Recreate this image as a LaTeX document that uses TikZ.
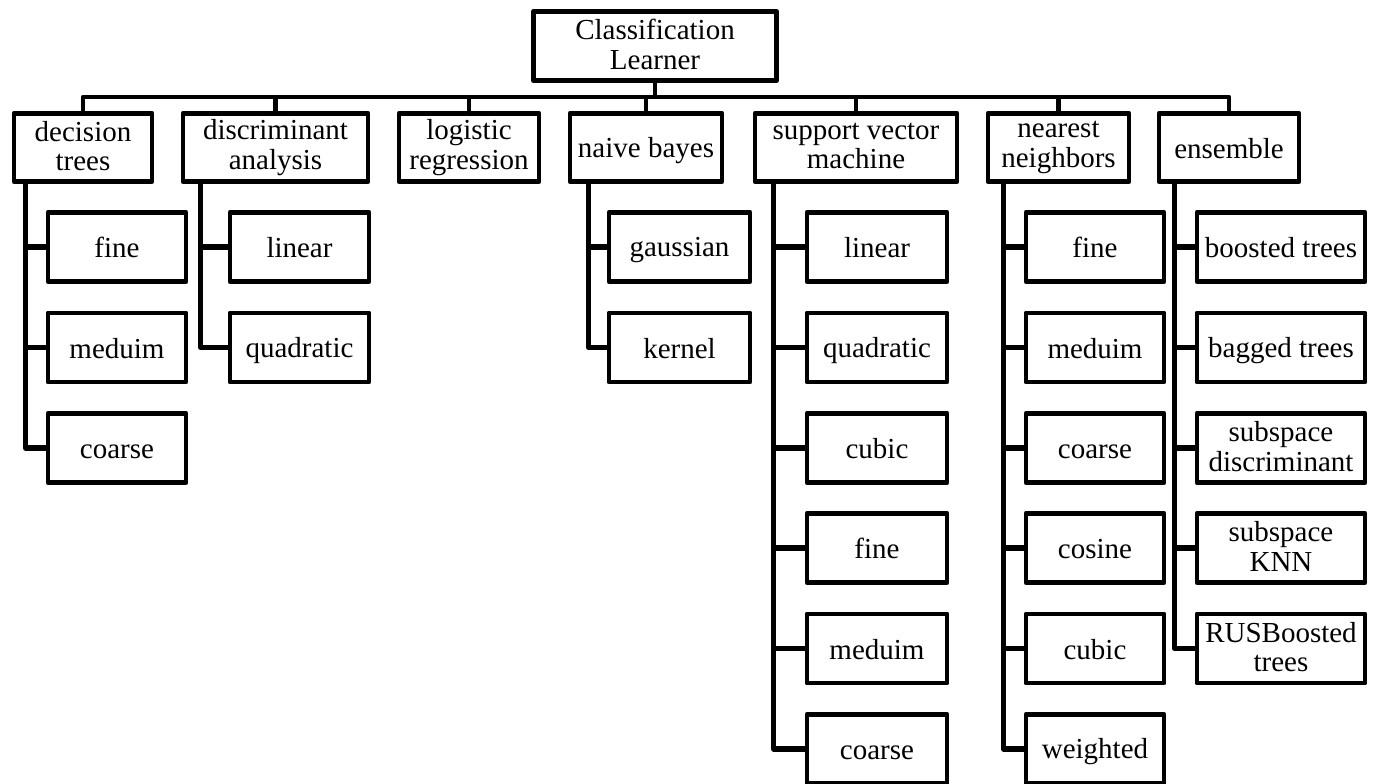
\documentclass[tikz,border=0pt]{standalone}
\usepackage{fontspec}
\setmainfont{Liberation Serif}
\usetikzlibrary{positioning}
\newcommand{\mystrut}{\rule[-2pt]{0pt}{16.5pt}}
\tikzset{
    mynode/.style = {rectangle, line width=2.8pt, draw=black, align=center, inner sep=0pt, line join=round,
                     font=\fontsize{16.5}{16.8}\selectfont,
                     execute at begin node=\mystrut, execute at end node=\mystrut},
    mynoder/.style = {mynode, minimum width=4.86cm, minimum height=1.38cm}, % root
    mynodec/.style = {mynode, minimum height=1.36cm}, % category
    mynodel/.style = {mynode, minimum height=1.38cm}, % leaf
    edgen/.style = {line width=3pt, line join=round},
    edgeb/.style = {line width=2.4pt, line join=round} % bus
}
\begin{document}
\begin{tikzpicture}
\useasboundingbox (0,0) rectangle (27.46,-15.68);
%
\node[mynoder] at (13.10,-0.92) (root) {Classification\\Learner};
\coordinate (bus) at (0,-1.94);
%
\node[mynodec, minimum width=2.76cm] at (1.66,-2.95) (dt) {decision\\trees};
\node[mynodec, minimum width=3.70cm] at (5.51,-2.95) (da) {discriminant\\analysis};
\node[mynodec, minimum width=2.80cm] at (9.38,-2.95) (lr) {logistic\\regression};
\node[mynodec, minimum width=3.04cm] at (12.92,-2.95) (nb) {naive bayes};
\node[mynodec, minimum width=4.04cm] at (17.12,-2.95) (svm) {support vector\\machine};
\node[mynodec, minimum width=2.82cm] at (21.17,-2.95) (nn) {nearest\\neighbors};
\node[mynodec, minimum width=2.80cm] at (24.58,-2.95) (en) {ensemble};
%
\node[mynodel, minimum width=2.76cm] at (2.34,-4.94) (dt1) {fine};
\node[mynodel, minimum width=2.76cm] at (2.34,-6.95) (dt2) {meduim};
\node[mynodel, minimum width=2.76cm] at (2.34,-8.96) (dt3) {coarse};
%
\node[mynodel, minimum width=2.78cm] at (5.99,-4.94) (da1) {linear};
\node[mynodel, minimum width=2.78cm] at (5.99,-6.95) (da2) {quadratic};
%
\node[mynodel, minimum width=2.82cm] at (13.59,-4.94) (nb1) {gaussian};
\node[mynodel, minimum width=2.82cm] at (13.59,-6.95) (nb2) {kernel};
%
\node[mynodel, minimum width=2.80cm] at (17.54,-4.94) (svm1) {linear};
\node[mynodel, minimum width=2.80cm] at (17.54,-6.95) (svm2) {quadratic};
\node[mynodel, minimum width=2.80cm] at (17.54,-8.96) (svm3) {cubic};
\node[mynodel, minimum width=2.80cm] at (17.54,-10.96) (svm4) {fine};
\node[mynodel, minimum width=2.80cm] at (17.54,-12.97) (svm5) {meduim};
\node[mynodel, minimum width=2.80cm] at (17.54,-14.98) (svm6) {coarse};
%
\node[mynodel, minimum width=2.76cm] at (21.90,-4.94) (nn1) {fine};
\node[mynodel, minimum width=2.76cm] at (21.90,-6.95) (nn2) {meduim};
\node[mynodel, minimum width=2.76cm] at (21.90,-8.96) (nn3) {coarse};
\node[mynodel, minimum width=2.76cm] at (21.90,-10.96) (nn4) {cosine};
\node[mynodel, minimum width=2.76cm] at (21.90,-12.97) (nn5) {cubic};
\node[mynodel, minimum width=2.76cm] at (21.90,-14.98) (nn6) {weighted};
%
\node[mynodel, minimum width=3.36cm] at (25.62,-4.94) (en1) {boosted trees};
\node[mynodel, minimum width=3.36cm] at (25.62,-6.95) (en2) {bagged trees};
\node[mynodel, minimum width=3.36cm] at (25.62,-8.96) (en3) {subspace\\discriminant};
\node[mynodel, minimum width=3.36cm] at (25.62,-10.96) (en4) {subspace\\KNN};
\node[mynodel, minimum width=3.36cm] at (25.62,-12.97) (en5) {RUSBoosted\\trees};
%
\draw[edgeb] (root.south) -- (root.south |- bus) -| (dt.north);
\draw[edgeb] (root.south) -- (root.south |- bus) -| (da.north);
\draw[edgeb] (root.south) -- (root.south |- bus) -| (lr.north);
\draw[edgeb] (root.south) -- (root.south |- bus) -| (nb.north);
\draw[edgeb] (root.south) -- (root.south |- bus) -| (svm.north);
\draw[edgeb] (root.south) -- (root.south |- bus) -| (nn.north);
\draw[edgeb] (root.south) -- (root.south |- bus) -| (en.north);
%
\draw[edgen] ([xshift=0.28cm]dt.south west) |- (dt1.west);
\draw[edgen] ([xshift=0.28cm]dt.south west) |- (dt2.west);
\draw[edgen] ([xshift=0.28cm]dt.south west) |- (dt3.west);
\draw[edgen] ([xshift=0.40cm]da.south west) |- (da1.west);
\draw[edgen] ([xshift=0.40cm]da.south west) |- (da2.west);
\draw[edgen] ([xshift=0.42cm]nb.south west) |- (nb1.west);
\draw[edgen] ([xshift=0.42cm]nb.south west) |- (nb2.west);
\draw[edgen] ([xshift=0.42cm]svm.south west) |- (svm1.west);
\draw[edgen] ([xshift=0.42cm]svm.south west) |- (svm2.west);
\draw[edgen] ([xshift=0.42cm]svm.south west) |- (svm3.west);
\draw[edgen] ([xshift=0.42cm]svm.south west) |- (svm4.west);
\draw[edgen] ([xshift=0.42cm]svm.south west) |- (svm5.west);
\draw[edgen] ([xshift=0.42cm]svm.south west) |- (svm6.west);
\draw[edgen] ([xshift=0.36cm]nn.south west) |- (nn1.west);
\draw[edgen] ([xshift=0.36cm]nn.south west) |- (nn2.west);
\draw[edgen] ([xshift=0.36cm]nn.south west) |- (nn3.west);
\draw[edgen] ([xshift=0.36cm]nn.south west) |- (nn4.west);
\draw[edgen] ([xshift=0.36cm]nn.south west) |- (nn5.west);
\draw[edgen] ([xshift=0.36cm]nn.south west) |- (nn6.west);
\draw[edgen] ([xshift=0.36cm]en.south west) |- (en1.west);
\draw[edgen] ([xshift=0.36cm]en.south west) |- (en2.west);
\draw[edgen] ([xshift=0.36cm]en.south west) |- (en3.west);
\draw[edgen] ([xshift=0.36cm]en.south west) |- (en4.west);
\draw[edgen] ([xshift=0.36cm]en.south west) |- (en5.west);

\end{tikzpicture}
\end{document}
